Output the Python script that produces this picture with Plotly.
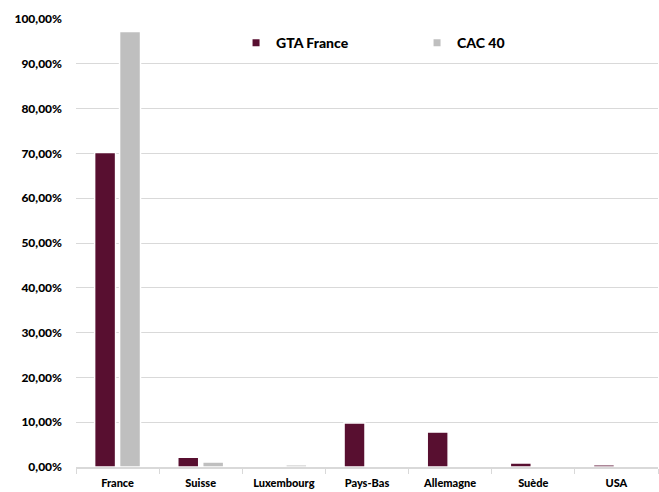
import plotly.graph_objects as go

categories = ["France", "Suisse", "Luxembourg", "Pays-Bas", "Allemagne", "Suède", "USA"]
gta_france = [0.702, 0.022, 0.0, 0.098, 0.078, 0.009, 0.005]
cac_40 = [0.972, 0.011, 0.005, 0.0, 0.0, 0.0, 0.0]
series_names = ["GTA France", "CAC 40"]
colors = ["#580F30", "#BFBFBF"]

font_fam = "Lato, Open Sans, Liberation Sans, Arial, sans-serif"

fig = go.Figure()
for name, vals, col in zip(series_names, [gta_france, cac_40], colors):
    fig.add_trace(go.Bar(x=categories, y=vals, name=name, marker=dict(color=col, line=dict(color="white", width=1.5)),
                         showlegend=False))
for name, col in zip(series_names, colors):
    fig.add_trace(go.Scatter(x=[None], y=[None], mode="markers", name=name,
                             marker=dict(symbol="square", size=7, color=col)))

fig.update_layout(
    width=659, height=492,
    margin=dict(l=76, r=1, t=19, b=25),
    paper_bgcolor="white", plot_bgcolor="white",
    separators=", ",
    barmode="group", bargap=0.40, bargroupgap=0.16,
    font=dict(family=font_fam, size=11, color="#000000"),
    legend=dict(orientation="h", x=0.275, y=0.946, xanchor="left", yanchor="middle",
                bgcolor="rgba(0,0,0,0)", font=dict(size=14, weight=900),
                entrywidth=136, entrywidthmode="pixels"),
    xaxis=dict(type="category", tickfont=dict(size=11, weight=900), showline=True, linecolor="#D9D9D9",
               linewidth=1.5, ticks="outside", tickson="boundaries", ticklen=5, tickcolor="#D9D9D9",
               showgrid=False, ticklabelstandoff=5),
    yaxis=dict(range=[0, 1.0], dtick=0.1, tickformat=".2%", showgrid=True, gridcolor="#D9D9D9",
               gridwidth=1.2, zeroline=False, tickfont=dict(size=12, weight=900), ticks="",
               ticklabelstandoff=13),
)
fig.write_html("out.html")
